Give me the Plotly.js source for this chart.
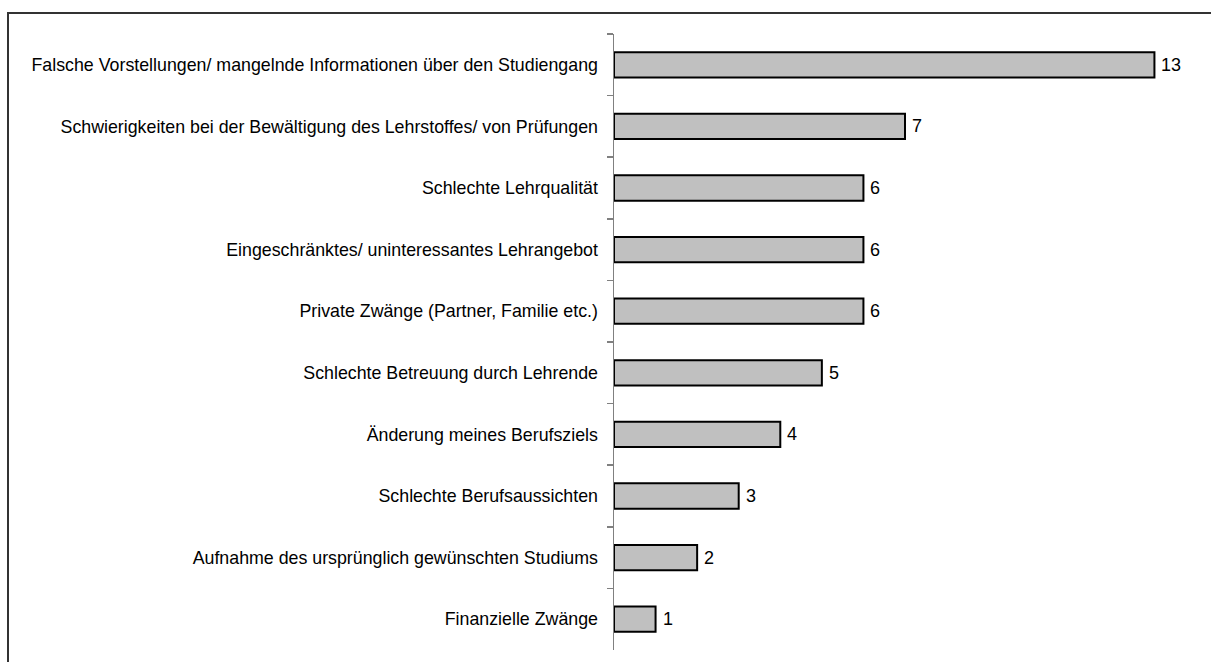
<!DOCTYPE html>
<html>
<head>
<meta charset="utf-8">
<script src="https://cdn.plot.ly/plotly-3.0.1.min.js"></script>
<style>
html,body{margin:0;padding:0;background:#fff;}
#chart{width:1211px;height:662px;}
</style>
</head>
<body>
<div id="chart"></div>
<script>
const categories = [
  "Falsche Vorstellungen/ mangelnde Informationen über den Studiengang",
  "Schwierigkeiten bei der Bewältigung des Lehrstoffes/ von Prüfungen",
  "Schlechte Lehrqualität",
  "Eingeschränktes/ uninteressantes Lehrangebot",
  "Private Zwänge (Partner, Familie etc.)",
  "Schlechte Betreuung durch Lehrende",
  "Änderung meines Berufsziels",
  "Schlechte Berufsaussichten",
  "Aufnahme des ursprünglich gewünschten Studiums",
  "Finanzielle Zwänge"
];
const values = [13, 7, 6, 6, 6, 5, 4, 3, 2, 1];

const W = 1211, H = 662;
const L = 614, R = 15, T = 34, B = 12;
const pw = W - L - R, ph = H - T - B;
const px = v => (v - L) / pw;
const py = v => (H - B - v) / ph;
const FONT = '"Liberation Sans", Arial, sans-serif';

const trace = {
  type: 'bar',
  orientation: 'h',
  x: values,
  y: categories,
  width: 0.41,
  marker: {color: '#c0c0c0', line: {color: '#000000', width: 2}},
  hoverinfo: 'none'
};

const annotations = values.map((v, i) => ({
  x: v, y: categories[i], xref: 'x', yref: 'y',
  text: String(v), showarrow: false, xanchor: 'left', xshift: 5,
  font: {family: FONT, size: 18, color: '#000'}
}));

const layout = {
  width: W, height: H,
  margin: {l: L, r: R, t: T, b: B, pad: 0},
  paper_bgcolor: '#ffffff',
  plot_bgcolor: '#ffffff',
  showlegend: false,
  xaxis: {
    range: [0, 14], visible: false, showgrid: false, zeroline: false, fixedrange: true
  },
  yaxis: {
    type: 'category',
    categoryorder: 'array', categoryarray: categories,
    autorange: 'reversed',
    showline: true, linecolor: '#808080', linewidth: 1.5,
    ticks: 'outside', tickson: 'boundaries', ticklen: 6, tickcolor: '#808080', tickwidth: 1.5,
    ticklabelstandoff: 11,
    showgrid: false, zeroline: false,
    tickfont: {family: FONT, size: 17.8, color: '#000'}
  },
  annotations: annotations,
  shapes: [{
    type: 'rect', xref: 'paper', yref: 'paper',
    x0: px(8), x1: px(1300), y0: py(700), y1: py(13),
    line: {color: '#333333', width: 2}, fillcolor: 'rgba(0,0,0,0)', layer: 'below'
  }]
};

Plotly.newPlot('chart', [trace], layout, {displayModeBar: false, staticPlot: true});
</script>
</body>
</html>
